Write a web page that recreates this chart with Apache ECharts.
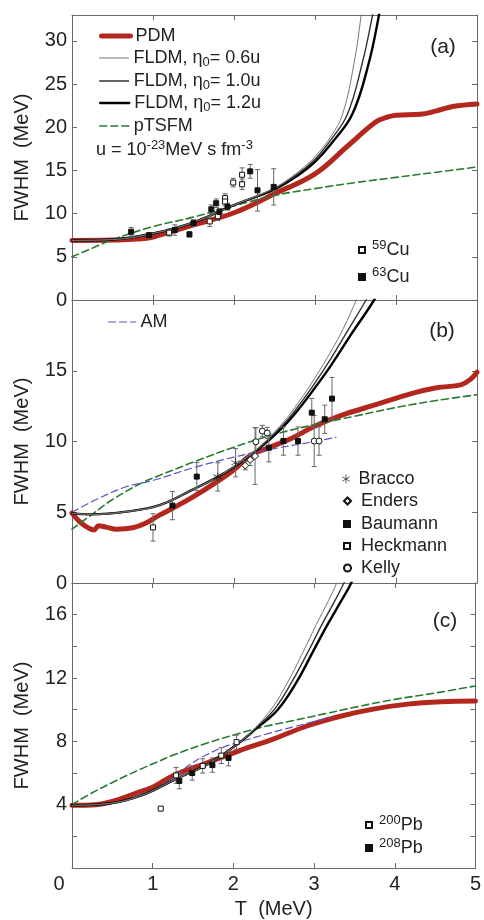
<!DOCTYPE html>
<html><head><meta charset="utf-8">
<script src="https://cdn.jsdelivr.net/npm/echarts@6/dist/echarts.min.js"></script>
<style>html,body{margin:0;padding:0;background:#fff}#c{width:484px;height:920px}</style>
</head><body><div id="c"></div>
<script>
// ---------- DATA ----------
const xTicks = [0, 1, 2, 3, 4, 5];
// Panel (a)  Cu
const aPdmT = [0, 0.5, 0.8, 1.0, 1.5, 2.0, 2.5, 3.0, 3.4, 3.75, 3.9, 4.0, 4.3, 4.5, 4.7, 5.0];
const aPdmV = [6.9, 6.95, 7.05, 7.3, 8.7, 10.1, 12.3, 14.6, 17.8, 20.6, 21.2, 21.4, 21.5, 21.9, 22.4, 22.7];
const aF06T = [0, 0.5, 1.0, 1.5, 2.0, 2.5, 2.8, 3.0, 3.2, 3.34, 3.48, 3.57, 3.63];
const aF06V = [6.9, 7.0, 7.7, 9.0, 11.0, 13.0, 14.9, 16.6, 19.0, 21.5, 27.3, 33, 38];
const aF10T = [0, 0.5, 1.0, 1.5, 2.0, 2.5, 2.8, 3.0, 3.2, 3.4, 3.58, 3.71, 3.78];
const aF10V = [6.9, 7.0, 7.7, 9.0, 11.0, 12.9, 14.7, 16.3, 18.6, 21.5, 27.3, 33, 37];
const aF12T = [0, 0.5, 1.0, 1.5, 2.0, 2.5, 2.8, 3.0, 3.2, 3.46, 3.66, 3.79, 3.86];
const aF12V = [6.9, 7.0, 7.7, 9.0, 11.0, 12.8, 14.5, 16.0, 18.1, 21.5, 27.3, 33, 37];
const aPtT = [0, 0.25, 0.5, 1.0, 1.5, 2.0, 2.5, 3.0, 3.5, 4.0, 4.5, 5.0];
const aPtV = [5.0, 6.0, 7.0, 8.5, 9.6, 10.9, 12.1, 12.9, 13.6, 14.2, 14.8, 15.4];
const cu59T = [1.2, 1.7, 1.8, 1.89, 1.89, 1.99, 2.1, 2.1];
const cu59V = [7.8, 9.1, 9.7, 11.8, 11.4, 13.6, 14.5, 13.4];
const cu59E = [0.4, 0.6, 0.5, 0.5, 0.5, 0.5, 0.8, 0.6];
const cu63T = [0.73, 0.95, 1.27, 1.45, 1.5, 1.72, 1.78, 1.82, 1.92, 2.2, 2.29, 2.49];
const cu63V = [7.9, 7.5, 8.1, 7.6, 8.9, 10.5, 11.2, 10.2, 10.8, 14.9, 12.7, 13.1];
const cu63E = [0.5, 0.3, 0.6, 0.3, 0.4, 0.5, 0.5, 0.4, 0.4, 0.8, 2.4, 2.1];
// Panel (b)  Sn
const bPdmT = [0, 0.1, 0.2, 0.27, 0.33, 0.42, 0.55, 0.75, 0.9, 1.08, 1.25, 1.5, 1.75, 2.0, 2.2, 2.4, 2.7, 3.0, 3.3, 3.75, 4.2, 4.5, 4.8, 4.92, 5.0];
const bPdmV = [4.95, 4.3, 3.9, 3.75, 4.05, 3.95, 3.8, 3.9, 4.2, 4.8, 5.3, 6.1, 7.0, 8.0, 9.0, 9.5, 10.2, 11.1, 11.8, 12.6, 13.4, 13.8, 14.0, 14.4, 14.9];
const bF06T = [0, 0.25, 0.67, 1.08, 1.49, 1.8, 2.0, 2.31, 2.6, 2.8, 3.0, 3.2, 3.35, 3.51, 3.6];
const bF06V = [4.92, 4.85, 5.04, 5.5, 6.6, 7.5, 8.25, 9.6, 11.3, 12.8, 14.5, 16.4, 18.0, 20, 21.2];
const bF10T = [0, 0.25, 0.67, 1.08, 1.49, 1.8, 2.0, 2.31, 2.6, 2.8, 3.0, 3.2, 3.4, 3.63, 3.75];
const bF10V = [4.92, 4.85, 5.04, 5.5, 6.6, 7.5, 8.2, 9.55, 11.15, 12.55, 14.15, 15.9, 17.8, 20, 21.3];
const bF12T = [0, 0.25, 0.67, 1.08, 1.49, 1.8, 2.0, 2.31, 2.6, 2.8, 3.0, 3.2, 3.45, 3.73, 3.85];
const bF12V = [4.92, 4.85, 5.04, 5.5, 6.6, 7.5, 8.2, 9.5, 11.0, 12.3, 13.8, 15.4, 17.6, 20, 21.3];
const bPtT = [0, 0.26, 0.5, 0.87, 1.08, 1.5, 2.0, 2.5, 3.0, 3.5, 4.0, 4.5, 5.0];
const bPtV = [3.8, 4.9, 5.9, 7.1, 7.6, 8.55, 9.6, 10.5, 11.2, 11.8, 12.4, 12.9, 13.3];
const bAmT = [0, 0.3, 0.67, 1.0, 1.5, 2.0, 2.5, 3.0, 3.26];
const bAmV = [5.0, 5.9, 6.8, 7.25, 8.15, 8.9, 9.5, 10.0, 10.3];
const braccoT = [1.8, 2.02];
const braccoV = [7.5, 8.5];
const braccoE = [1.0, 1.0];
const endersT = [2.14, 2.2, 2.26];
const endersV = [8.3, 8.7, 8.97];
const endersE = [0.3, 0.4, 2.0];
const baumannT = [1.24, 1.54, 2.43, 2.61, 2.79, 2.96, 3.12, 3.21];
const baumannV = [5.47, 7.52, 9.56, 10.03, 10.03, 12.04, 11.57, 13.03];
const baumannE = [1.0, 1.0, 1.0, 1.0, 1.0, 1.0, 1.0, 1.5];
const heckmannT = [1.0];
const heckmannV = [3.93];
const heckmannE = [0.97];
const kellyT = [2.27, 2.35, 2.41, 2.99, 3.05];
const kellyV = [9.98, 10.74, 10.6, 10.03, 10.03];
const kellyE = [1.0, 0.4, 0.4, 1.8, 1.0];
// Panel (c)  Pb
const cPdmT = [0, 0.3, 0.5, 0.83, 1.0, 1.24, 1.65, 2.07, 2.5, 2.93, 3.34, 3.75, 4.16, 4.58, 5.0];
const cPdmV = [3.96, 4.0, 4.2, 4.8, 5.1, 5.8, 6.6, 7.4, 8.15, 9.0, 9.6, 10.05, 10.35, 10.5, 10.55];
const cF06T = [0, 0.46, 0.87, 1.28, 1.7, 2.03, 2.27, 2.5, 2.68, 2.87, 3.03, 3.18, 3.28, 3.4];
const cF06V = [3.96, 4.07, 4.6, 5.6, 6.6, 7.75, 8.85, 10.25, 11.8, 13.7, 15.4, 16.9, 18, 19.6];
const cF10T = [0, 0.46, 0.87, 1.28, 1.7, 2.03, 2.27, 2.52, 2.73, 2.93, 3.1, 3.26, 3.37, 3.5];
const cF10V = [3.96, 4.07, 4.6, 5.6, 6.6, 7.75, 8.8, 10.1, 11.8, 13.7, 15.4, 16.9, 18, 19.5];
const cF12T = [0, 0.46, 0.87, 1.28, 1.7, 2.03, 2.27, 2.55, 2.79, 2.99, 3.17, 3.34, 3.46, 3.58];
const cF12V = [3.96, 4.07, 4.6, 5.6, 6.6, 7.75, 8.75, 10.0, 11.8, 13.7, 15.4, 16.9, 18, 19.6];
const cPtT = [0, 0.25, 0.5, 0.83, 1.08, 1.24, 1.65, 2.07, 2.4, 2.73, 3.14, 3.55, 4.0, 4.5, 5.0];
const cPtV = [4.0, 4.75, 5.4, 6.2, 6.75, 7.1, 7.85, 8.5, 8.95, 9.3, 9.75, 10.2, 10.65, 11.05, 11.5];
const cAmT = [0, 0.46, 0.87, 1.1, 1.28, 1.45, 1.65, 1.86, 2.07, 2.44, 2.73, 3.0, 3.22];
const cAmV = [3.96, 4.07, 4.65, 5.2, 5.8, 6.5, 7.1, 7.6, 7.95, 8.5, 8.9, 9.25, 9.5];
const pb200T = [1.1, 1.29, 1.62, 1.85, 2.04];
const pb200V = [3.75, 5.85, 6.45, 7.1, 7.95];
const pb200E = [0, 0.5, 0.45, 0.5, 0.45];
const pb208T = [1.33, 1.49, 1.74, 1.94];
const pb208V = [5.5, 6.0, 6.5, 6.95];
const pb208E = [0.5, 0.45, 0.45, 0.5];

// ---------- STYLE / BUILD ----------
const FONT = '"Liberation Sans", Arial, Helvetica, sans-serif';
const TXT = '#222';
const AX = '#6a6a6a';
const RED = '#b3281e', GREEN = '#2a7a32', AMC = '#5a52c8';
const zip = (t, v) => t.map((x, i) => [x, v[i]]);
const zip3 = (t, v, e) => t.map((x, i) => [x, v[i], e[i]]);

const gridDefs = [
  { left: 72, top: 15, width: 405, height: 285 },
  { left: 72, top: 300, width: 405, height: 283 },
  { left: 72, top: 583, width: 405, height: 285 }
];
const yMax = [33, 20, 18], yInt = [5, 5, 2];
const yFmt = [
  v => (v % 5 === 0 && v <= 30) ? String(v) : '',
  v => (v <= 15) ? String(v) : '',
  v => (v % 4 === 0 && v > 0 && v <= 16) ? String(v) : ''
];
const xAxes = [], yAxes = [];
for (let p = 0; p < 3; p++) {
  const common = {
    gridIndex: p, type: 'value', splitLine: { show: false },
    axisLine: { show: true, onZero: false, lineStyle: { color: AX, width: 1 } },
    axisTick: { show: true, inside: true, length: 5, lineStyle: { color: AX } }
  };
  xAxes.push(Object.assign({}, common, {
    min: 0, max: 5, interval: 1, position: 'bottom',
    axisLabel: { show: p === 2, margin: 6, fontSize: 20, color: TXT, fontFamily: FONT,
      formatter: v => v === 0 ? '{z|0}' : (xTicks.indexOf(v) >= 0 ? String(v) : ''),
      rich: { z: { fontSize: 20, color: TXT, fontFamily: FONT, padding: [0, 26, 0, 0] } } },
    name: p === 2 ? 'T  (MeV)' : '', nameLocation: 'middle', nameGap: 31,
    nameTextStyle: { fontSize: 20, color: TXT, fontFamily: FONT }
  }));
  xAxes.push(Object.assign({}, common, {
    min: 0, max: 5, interval: 1, position: 'top', axisLabel: { show: false }
  }));
  yAxes.push(Object.assign({}, common, {
    min: 0, max: yMax[p], interval: yInt[p], position: 'left',
    axisLabel: { show: true, margin: 5, fontSize: 20, color: TXT, fontFamily: FONT, formatter: yFmt[p], showMaxLabel: p === 0 ? false : true },
    name: 'FWHM  (MeV)', nameLocation: 'middle', nameRotate: 90, nameGap: 40,
    nameTextStyle: { fontSize: 20, color: TXT, fontFamily: FONT }
  }));
  yAxes.push(Object.assign({}, common, {
    min: 0, max: yMax[p], interval: yInt[p], position: 'right', axisLabel: { show: false }
  }));
}

function line(p, name, data, color, width, type, z) {
  return { type: 'line', name, xAxisIndex: 2 * p, yAxisIndex: 2 * p, data, symbol: 'none',
    smooth: 0.4, clip: true, silent: true, z,
    lineStyle: { color, width, type, cap: 'round', join: 'round' }, itemStyle: { color } };
}
function pts(p, name, data, symbol, fill, size) {
  return { type: 'scatter', name, xAxisIndex: 2 * p, yAxisIndex: 2 * p, data, symbol,
    symbolSize: size, z: 6, silent: true,
    itemStyle: { color: fill, borderColor: '#111', borderWidth: 1, opacity: 1 } };
}
function err(p, data) {
  return { type: 'custom', xAxisIndex: 2 * p, yAxisIndex: 2 * p, data, z: 5, silent: true,
    encode: { x: 0, y: 1 },
    renderItem: (params, api) => {
      const x = api.value(0), y = api.value(1), e = api.value(2);
      if (!e) return null;
      const t = api.coord([x, y + e]), b = api.coord([x, y - e]);
      const w = 2.5, st = { stroke: '#666', lineWidth: 1 };
      return { type: 'group', children: [
        { type: 'line', shape: { x1: t[0], y1: t[1], x2: b[0], y2: b[1] }, style: st },
        { type: 'line', shape: { x1: t[0] - w, y1: t[1], x2: t[0] + w, y2: t[1] }, style: st },
        { type: 'line', shape: { x1: b[0] - w, y1: b[1], x2: b[0] + w, y2: b[1] }, style: st }
      ] };
    } };
}
const DASH = [7, 4];
// six-armed asterisk
const ASTER = 'path://M5.5,0 H6.5 V4.9 L10.8,2.5 L11.3,3.4 L7,5.9 L11.3,8.4 L10.8,9.3 L6.5,6.9 V11.8 H5.5 V6.9 L1.2,9.3 L0.7,8.4 L5,5.9 L0.7,3.4 L1.2,2.5 L5.5,4.9 Z';

const series = [
  // (a)
  line(0, 'PDM', zip(aPdmT, aPdmV), RED, 5, 'solid', 2),
  line(0, 'pTSFM', zip(aPtT, aPtV), GREEN, 1.6, DASH, 3),
  line(0, 'F12', zip(aF12T, aF12V), '#000', 2.4, 'solid', 4),
  line(0, 'F10', zip(aF10T, aF10V), '#333', 1.4, 'solid', 4),
  line(0, 'F06', zip(aF06T, aF06V), '#777', 1, 'solid', 4),
  err(0, zip3(cu59T, cu59V, cu59E)), err(0, zip3(cu63T, cu63V, cu63E)),
  pts(0, 'Cu59', zip(cu59T, cu59V), 'rect', '#fff', 5),
  pts(0, 'Cu63', zip(cu63T, cu63V), 'rect', '#111', 5),
  // (b)
  line(1, 'PDMb', zip(bPdmT, bPdmV), RED, 5, 'solid', 2),
  line(1, 'pTb', zip(bPtT, bPtV), GREEN, 1.6, DASH, 3),
  line(1, 'AM', zip(bAmT, bAmV), AMC, 1.2, DASH, 3),
  line(1, 'F12b', zip(bF12T, bF12V), '#000', 2.4, 'solid', 4),
  line(1, 'F10b', zip(bF10T, bF10V), '#333', 1.4, 'solid', 4),
  line(1, 'F06b', zip(bF06T, bF06V), '#777', 1, 'solid', 4),
  err(1, zip3(braccoT, braccoV, braccoE)), err(1, zip3(endersT, endersV, endersE)),
  err(1, zip3(baumannT, baumannV, baumannE)), err(1, zip3(heckmannT, heckmannV, heckmannE)),
  err(1, zip3(kellyT, kellyV, kellyE)),
  { ...pts(1, 'Bracco', zip(braccoT, braccoV), ASTER, '#111', 9), itemStyle: { color: '#111', borderWidth: 0 } },
  pts(1, 'Enders', zip(endersT, endersV), 'diamond', '#fff', 7),
  pts(1, 'Baumann', zip(baumannT, baumannV), 'rect', '#111', 5),
  pts(1, 'Heckmann', zip(heckmannT, heckmannV), 'rect', '#fff', 5),
  pts(1, 'Kelly', zip(kellyT, kellyV), 'circle', '#fff', 6),
  // (c)
  line(2, 'PDMc', zip(cPdmT, cPdmV), RED, 5, 'solid', 2),
  line(2, 'pTc', zip(cPtT, cPtV), GREEN, 1.6, DASH, 3),
  line(2, 'AMc', zip(cAmT, cAmV), AMC, 1.2, DASH, 3),
  line(2, 'F12c', zip(cF12T, cF12V), '#000', 2.4, 'solid', 4),
  line(2, 'F10c', zip(cF10T, cF10V), '#333', 1.4, 'solid', 4),
  line(2, 'F06c', zip(cF06T, cF06V), '#777', 1, 'solid', 4),
  err(2, zip3(pb200T, pb200V, pb200E)), err(2, zip3(pb208T, pb208V, pb208E)),
  pts(2, 'Pb200', zip(pb200T, pb200V), 'rect', '#fff', 5),
  pts(2, 'Pb208', zip(pb208T, pb208V), 'rect', '#111', 5)
];

const RICH = {
  sub: { fontSize: 13, padding: [9, 0, 0, 0], color: TXT, fontFamily: FONT },
  sup: { fontSize: 13, padding: [0, 0, 9, 0], color: TXT, fontFamily: FONT }
};
function leg(name, text, left, top, w, h, lineW, hideSym, padL) {
  const o = { data: [name], left, top, orient: 'vertical', itemWidth: w, itemHeight: h, padding: 0,
    selectedMode: false, formatter: () => text,
    textStyle: { fontSize: 18, color: TXT, fontFamily: FONT, rich: RICH, padding: [0, 0, 0, padL || 0] } };
  if (lineW) o.lineStyle = { width: lineW };
  if (hideSym) o.itemStyle = { opacity: 0 };
  return o;
}
const legends = [
  leg('PDM', 'PDM', 99, 27, 29, 16, 5, true),
  leg('F06', 'FLDM, η{sub|0}= 0.6u', 99, 49, 29, 16, 1, true),
  leg('F10', 'FLDM, η{sub|0}= 1.0u', 99, 72, 29, 16, 1.4, true),
  leg('F12', 'FLDM, η{sub|0}= 1.2u', 99, 94, 29, 16, 2.4, true),
  leg('pTSFM', 'pTSFM', 99, 117, 29, 16, 1.6, true),
  leg('Cu59', '{sup|59}Cu', 358, 239, 6, 6, 0, false, 2),
  leg('Cu63', '{sup|63}Cu', 358, 266, 6, 6, 0, false, 2),
  leg('AM', 'AM', 108, 313, 27, 16, 1.2, true),
  leg('Bracco', 'Bracco', 342, 470, 9, 9, 0, false, 3),
  leg('Enders', 'Enders', 343, 492, 7, 7, 0, false, 5),
  leg('Baumann', 'Baumann', 343, 515, 6, 6, 0, false, 6),
  leg('Heckmann', 'Heckmann', 343, 537, 6, 6, 0, false, 6),
  leg('Kelly', 'Kelly', 343, 559, 7, 7, 0, false, 5),
  leg('Pb200', '{sup|200}Pb', 365, 814, 6, 6, 0, false, 2),
  leg('Pb208', '{sup|208}Pb', 365, 837, 6, 6, 0, false, 2)
];

const graphics = [
  { type: 'text', left: 96, top: 139, style: { text: '{n|u = 10}{s|-23}{n|MeV s fm}{s|-3}',
    rich: { n: { fontSize: 18, fill: TXT, fontFamily: FONT }, s: { fontSize: 13, fill: TXT, fontFamily: FONT, padding: [0, 0, 9, 0] } } } },
  { type: 'text', x: 443, y: 47, style: { text: '(a)', fontSize: 21, fill: TXT, fontFamily: FONT, align: 'center', verticalAlign: 'middle' } },
  { type: 'text', x: 442, y: 331, style: { text: '(b)', fontSize: 21, fill: TXT, fontFamily: FONT, align: 'center', verticalAlign: 'middle' } },
  { type: 'text', x: 445, y: 621, style: { text: '(c)', fontSize: 21, fill: TXT, fontFamily: FONT, align: 'center', verticalAlign: 'middle' } }
];

const chart = echarts.init(document.getElementById('c'), null, { renderer: 'canvas' });
chart.setOption({
  animation: false,
  backgroundColor: '#fff',
  grid: gridDefs,
  xAxis: xAxes,
  yAxis: yAxes,
  legend: legends,
  graphic: graphics,
  series
});
</script></body></html>
